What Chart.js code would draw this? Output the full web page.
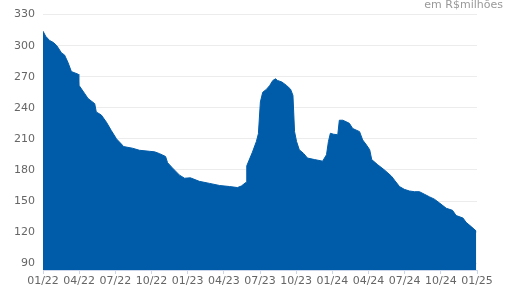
<!DOCTYPE html>
<html>
<head>
<meta charset="utf-8">
<script src="https://cdn.jsdelivr.net/npm/chart.js@4.4.1/dist/chart.umd.min.js"></script>
<style>
  html, body { margin: 0; padding: 0; background: #fff; }
  #wrap { position: relative; width: 505px; height: 286px; }
  #unit {
    position: absolute; right: 2px; top: -2px;
    font: 11px "DejaVu Sans", sans-serif; color: #999;
  }
</style>
</head>
<body>
<div id="wrap">
  <canvas id="chart" width="505" height="286"></canvas>
  <div id="unit">em R$milhões</div>
</div>
<script>
// --- Data ---
const dates = [
  "2022-01-01", "2022-01-08", "2022-01-18", "2022-01-28", "2022-02-05", "2022-02-16",
  "2022-02-23", "2022-03-03", "2022-03-12", "2022-03-29", "2022-03-31", "2022-04-15",
  "2022-04-23", "2022-05-10", "2022-05-14", "2022-05-27", "2022-06-09", "2022-06-21",
  "2022-07-04", "2022-07-19", "2022-07-22", "2022-08-14", "2022-09-01", "2022-09-26",
  "2022-10-09", "2022-10-22", "2022-11-06", "2022-11-11", "2022-11-23", "2022-12-11",
  "2022-12-24", "2023-01-08", "2023-01-31", "2023-02-24", "2023-03-21", "2023-04-15",
  "2023-05-05", "2023-05-15", "2023-05-27", "2023-05-29", "2023-06-12", "2023-06-22",
  "2023-06-27", "2023-07-02", "2023-07-08", "2023-07-18", "2023-07-26", "2023-08-03",
  "2023-08-10", "2023-08-15", "2023-08-26", "2023-09-07", "2023-09-17", "2023-09-23",
  "2023-09-27", "2023-10-02", "2023-10-09", "2023-10-20", "2023-10-30", "2023-11-17",
  "2023-12-07", "2023-12-17", "2023-12-22", "2023-12-27", "2024-01-04", "2024-01-15",
  "2024-01-19", "2024-01-28", "2024-02-05", "2024-02-13", "2024-02-21", "2024-03-09",
  "2024-03-17", "2024-03-27", "2024-04-04", "2024-04-09", "2024-04-24", "2024-05-11",
  "2024-05-29", "2024-06-06", "2024-06-18", "2024-06-30", "2024-07-13", "2024-07-26",
  "2024-08-08", "2024-08-21", "2024-09-03", "2024-09-15", "2024-09-28", "2024-10-15",
  "2024-10-31", "2024-11-09", "2024-11-26", "2024-12-04", "2024-12-17", "2024-12-30"
];
const values = [
  314, 309, 305, 303, 300, 293,
  291, 284, 275, 272.5, 262, 253.6,
  249, 244, 236, 233, 226, 218,
  210, 204, 202.6, 201, 199, 198,
  197.5, 195.7, 193, 187, 182, 175,
  172, 172.4, 169, 167, 165, 164,
  163, 164.5, 168, 184, 197, 207.5,
  215, 245.7, 255, 258, 261.6, 266.4,
  268, 266.4, 265, 261.6, 258, 252,
  217, 207.5, 199.5, 196, 191.5, 190,
  188.5, 194.7, 207.5, 215.4, 214.5, 214,
  228, 228, 226.6, 225, 220, 217,
  209, 204, 199.5, 190, 185, 180,
  174, 170, 164, 161.3, 159.7, 159,
  159, 156.5, 154, 151.8, 148, 143,
  141, 136, 133.6, 129.4, 125.3, 121
];
const xTickLabels = ["01/22", "04/22", "07/22", "10/22", "01/23", "04/23", "07/23",
                     "10/23", "01/24", "04/24", "07/24", "10/24", "01/25"];
const yTicks = [90, 120, 150, 180, 210, 240, 270, 300, 330];

// date string -> months since Jan 2022
function toMonths(s) {
  const [y, m, d] = s.split("-").map(Number);
  const days = new Date(y, m, 0).getDate();
  return (y - 2022) * 12 + (m - 1) + (d - 1) / days;
}

const points = dates.map((d, i) => ({ x: toMonths(d), y: values[i] }));

const axisColor = "#ccd6eb";
const labelColor = "#666666";
Chart.defaults.font.family = "'DejaVu Sans', sans-serif";
Chart.defaults.font.size = 11;

new Chart(document.getElementById("chart"), {
  type: "line",
  data: {
    datasets: [{
      data: points,
      borderColor: "#005ca9",
      backgroundColor: "#005ca9",
      borderWidth: 1,
      fill: "start",
      pointRadius: 0,
      tension: 0
    }]
  },
  options: {
    responsive: false,
    animation: false,
    layout: { padding: { top: 11, right: 28, left: 0, bottom: 0 } },
    plugins: { legend: { display: false }, tooltip: { enabled: false } },
    scales: {
      x: {
        type: "linear",
        min: 0,
        max: 36,
        afterBuildTicks: (scale) => {
          scale.ticks = xTickLabels.map((_, i) => ({ value: i * 3 }));
        },
        afterFit: (scale) => { scale.height = 16; },
        ticks: {
          color: labelColor,
          padding: 1,
          maxRotation: 0,
          autoSkip: false,
          callback: (v) => xTickLabels[Math.round(v / 3)]
        },
        grid: { drawOnChartArea: false, drawTicks: true, tickLength: 4, color: axisColor },
        border: { color: axisColor, width: 1 }
      },
      y: {
        min: 83.4,
        max: 330,
        afterBuildTicks: (scale) => {
          scale.ticks = yTicks.map(v => ({ value: v }));
        },
        afterFit: (scale) => { scale.width = 43; },
        ticks: { color: labelColor, padding: 8 },
        grid: { color: "#ececec", drawTicks: false },
        border: { display: false }
      }
    }
  }
});
</script>
</body>
</html>
